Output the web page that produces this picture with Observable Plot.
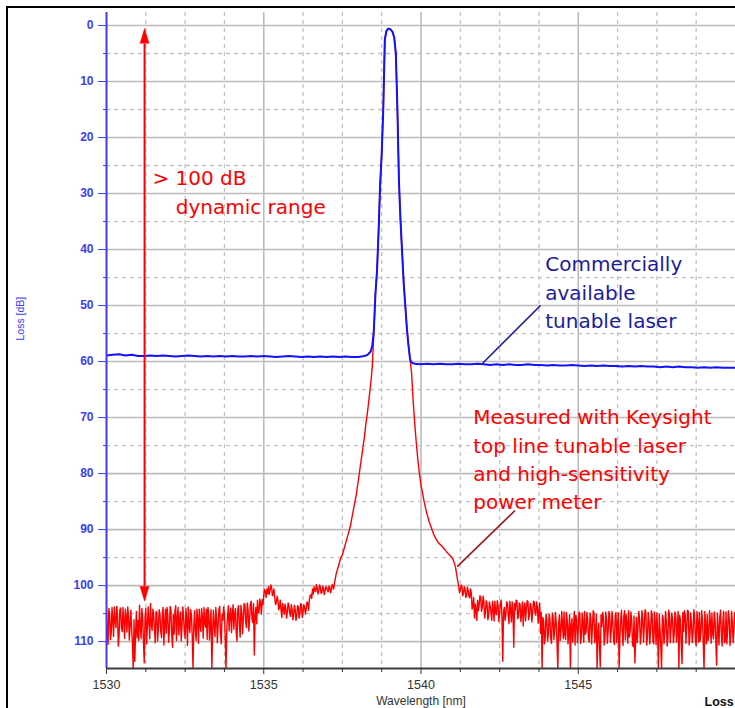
<!DOCTYPE html>
<html><head><meta charset="utf-8">
<script src="https://cdn.jsdelivr.net/npm/d3@7"></script>
<script src="https://cdn.jsdelivr.net/npm/@observablehq/plot@0.6"></script>
<style>
body{margin:0;background:#fff;}
#wrap{position:relative;width:735px;height:708px;overflow:hidden;background:#fff;}
#wrap svg{position:absolute;left:0;top:0;}
#border{position:absolute;left:6px;top:6px;width:800px;height:800px;border-left:2px solid #000;border-top:2px solid #000;pointer-events:none;}
</style></head><body><div id="wrap"></div>
<script>
// ---------- data ----------
// Red trace (Keysight laser + high-sensitivity meter): one row per nm, samples every 0.05 nm
const redRowStart = [1530,1531,1532,1533,1534,1535,1536,1537,1538,1539,1540,1541,1542,1543,1544,1545,1546,1547,1548,1549];
const redStep = 0.05;
const redRows = [
  [104.5,110.5,105,108.5,106,103.8,107.5,105.2,109,104,108.2,106.5,104.2,108.3,105.5,107,108,115,113.5,104.6],
  [106.2,103.5,109.5,105.8,113.8,104.1,107.2,106.7,103.2,108,105.3,110.2,104.8,107.6,105.1,109.3,103.9,106.8,108.5,105.4],
  [107.9,104.3,111,108.7,103.6,105.9,108.8,104.7,107.3,105.6,109.4,106.3,103.8,108.4,105.2,115,104.5,109.8,106,104.2],
  [108.2,105.7,103.9,107.4,109.6,105.1,106.9,115,104.4,109.1,105.8,107.1,103.7,110.4,106.2,104.9,115,105.5,108.1,104],
  [105.3,107.8,104.1,109.9,103.6,109.2,104.8,106.1,103.4,107.5,104.2,105.9,102.8,106.6,112.4,103.9,102.6,104.7,103.2,102.5],
  [101.8,101,100.6,100.2,100.8,100.4,101.3,102.2,103.1,102.6,103.8,104.4,103.2,105.1,104,104.8,103.6,105.5,104.2,105.2],
  [104.3,105.4,103.8,104.9,103.5,104.6,103.9,104.2,103.1,102.5,101.6,100.6,100.2,101.1,100.4,100.9,100.3,101.2,100.5,100.9],
  [100.4,101.1,100.2,100.8,100.1,99.5,98,97,96,95,94.5,93.5,92.5,91.5,90.5,89.5,88,86.5,85,83.5],
  [81.5,79.5,77.5,75.5,73.5,71,69,66.5,64,61,55,48,44,37,28.5,23,15,2.5,1,0.6],
  [0.6,0.8,1.2,2.2,5,15,28,35,40.5,46,50,54,57,59.5,62,67,71,74.5,77.5,80],
  [82,83.5,85,86.3,87.4,88.4,89.2,90,90.8,91.4,91.9,92.3,92.6,92.9,93.2,93.5,93.9,94.2,94.5,94.8],
  [95.1,95.8,96.8,98.6,100.2,100.8,100.1,101.4,100.6,101.8,100.9,102.2,101.3,103.5,105.8,104.2,102.6,103.4,102.1,103.8],
  [102.9,104.6,103.2,105.4,103.7,106.2,104.1,102.8,105.2,103.5,104.8,102.6,113.5,103.9,105,103.1,106.8,104.3,102.9,111],
  [104.4,102.7,105.6,103.3,104.9,107.2,103.1,104.2,102.8,105.1,103.6,104.7,102.9,105.3,103.8,104.5,108.5,115,106.4,109.2],
  [105.8,108.7,106.1,110.3,105.4,107.9,106.6,115,105.2,108.3,106.9,104.7,109.6,106.2,108.1,114.8,105.9,107.4,110.6,106.3],
  [107.8,105.1,109.2,106.5,104.6,108.3,106,110.1,105.7,107.6,104.9,108.8,115,106.7,114.5,107.3,105.5,109.4,106.1,108.2],
  [105.3,107.9,106.4,110.5,104.8,107.1,115,106.2,108.6,105.4,109.7,106.8,104.5,108.1,106.3,110.9,113.8,105.7,107.4,106],
  [108.9,105.6,107.2,104.7,109.3,106.5,108,105.2,110.4,106.9,104.9,115,107.8,114.6,105.8,108.5,106.2,109.6,105,107.5],
  [106.1,108.8,105.4,107.6,115,106.3,113.9,108.2,105.1,107.4,104.6,109.1,106.7,108.4,105.5,110.7,106.9,104.8,108.3,106.2],
  [115,107.3,105.2,108.9,106.4,104.9,109.5,106.1,114.2,107.7,105.6,108.6,106.3,110.2,104.7,107.9,105.8,109.3,106.5,108,106.8]
];
// Extra noise samples read between the ones above (row start + 0.025 + i*0.05); null = none
const redMidOffset = 0.025;
const redMidRows = [
  [108.2,104.1,109.6,103.9,109.1,106.4,103.7,110.8,104.3,107.6,103.9,109.4,105.6,103.8,109.7,104.4,110.2,106.1,108.4,109.3],
  [109.8,107.2,104.1,109.9,105.6,110.4,103.8,109.5,106.9,104.2,107.8,104.6,109.9,104.3,108.2,105.1,110.6,104.2,103.9,110.1],
  [103.7,108.9,105.2,104.6,109.8,103.9,106.1,109.9,103.8,108.2,104.1,110.7,107.2,104.3,108.9,107.4,108.1,104.2,110.3,106.9],
  [104.1,109.4,106.8,104.2,103.9,109.7,104.3,108.1,107.3,103.9,110.2,104.2,108.6,105.1,103.8,109.5,107.8,103.6,105.2,108.4],
  [103.4,105.1,108.3,104.2,106.9,103.5,108.6,103.2,106.4,103.1,108.1,103.3,105.9,103.2,105.4,106.8,104.9,102.4,105.1,103.4],
  [100.7,102.1,101.4,101.6,99.9,101.8,100.6,103.4,101.9,104.3,102.6,105.7,104.2,103.3,105.8,103.1,104.9,103.4,106.1,103.5],
  [106.2,103.6,105.8,103.2,105.7,103.4,105.1,102.9,104.4,101.8,102.3,101.5,100.9,99.8,101.5,99.9,101.4,100.1,101.6,100.2],
  [100.9,100.1,101.3,99.8,100.6],
  [],
  [],
  [],
  [null,null,null,null,101.3,99.9,101.8,100.2,102.1,100.3,101.9,100.6,104.2,102.1,103.3,106.2,104.5,101.8,104.6,101.9],
  [105.8,102.7,106.1,102.9,104.8,102.8,106.3,104.9,102.7,106.4,103.1,105.9,104.6,106.2,102.9,105.4,102.8,106.5,104.7,103.2],
  [102.6,105.9,103.1,106.4,102.9,104.1,106.3,102.7,106.1,103.2,106.5,102.8,104.9,102.9,106.7,103.1,104.8,105.7,110.4,105.1],
  [109.9,105.1,109.4,104.9,109.6,104.8,110.2,106.9,109.8,104.6,109.5,108.9,104.8,110.4,105.2,107.1,110.1,104.6,105.3,110.2],
  [104.7,110.3,104.9,110.1,108.7,104.8,109.6,104.9,110.4,104.5,110.2,105.1,108.4,110.9,105.2,104.8,110.6,104.7,110.3,104.6],
  [110.1,104.6,109.8,105.3,110.2,104.9,109.1,104.4,110.7,104.5,105.2,110.3,109.2,104.7,110.5,105.4,109.6,110.2,104.6,110.4],
  [104.5,110.1,104.3,110.6,104.8,110.4,104.5,109.9,104.7,110.5,108.6,105.1,110.9,105.3,110.4,104.6,110.8,104.4,110.2,104.9],
  [110.2,104.7,110.1,104.6,105.3,110.4,104.8,104.5,110.3,104.4,110.6,104.9,110.2,104.3,109.8,104.6,110.1,109.9,104.5,110.3],
  [104.6,110.4,109.8,104.5,110.3,108.6,104.7,110.1,104.9,110.6,104.4,110.8,104.6,109.9,110.4,104.5,110.7,104.6,110.2,104.8]
];

// Blue trace (commercially available tunable laser)
const blueLeftStart = 1530, blueLeftStep = 0.2;
const blueLeftLoss = [58.9,58.8,58.7,58.9,58.8,59.0,59.0,58.9,59.0,58.9,59.0,59.1,59.0,58.9,59.0,59.1,59.0,59.1,59.0,59.1,59.0,59.1,59.1,59.0,59.1,59.0,59.1,59.2,59.1,59.0,59.1,59.2,59.1,59.2,59.1,59.2,59.1,59.2,59.1,59.2,59.2,59.0];
const bluePeakWl = [1538.3,1538.4,1538.45,1538.5,1538.55,1538.6,1538.65,1538.7,1538.75,1538.8,1538.85,1538.9,1538.95,1539.0,1539.05,1539.1,1539.15,1539.2,1539.25,1539.3,1539.35,1539.4,1539.45,1539.5,1539.55,1539.6,1539.65,1539.7];
const bluePeakLoss = [58.8,58.2,57.2,54.5,48,44,37,28.5,23,15,2.5,1,0.6,0.6,0.8,1.2,2.2,5,15,28,35,40.5,46,50,54,57,59.5,60.2];
const blueRightStart = 1539.8, blueRightStep = 0.2;
const blueRightLoss = [60.4,60.5,60.4,60.5,60.4,60.5,60.5,60.4,60.5,60.5,60.4,60.5,60.6,60.5,60.6,60.5,60.6,60.6,60.5,60.6,60.6,60.7,60.6,60.7,60.7,60.6,60.7,60.8,60.7,60.8,60.7,60.8,60.8,60.9,60.8,60.9,60.8,60.9,60.9,61.0,60.9,61.0,60.9,61.0,61.0,61.1,61.0,61.1,61.0,61.1,61.1,61.1];

// Axes / ticks
const xDomain = [1530, 1550];
const yDomain = [-2.32, 114.8];
const xMajorTicks = [1530, 1535, 1540, 1545];
const xGridMajor = [1535, 1540, 1545];
const xMinorTicks = [1531.25,1532.5,1533.75,1536.25,1537.5,1538.75,1541.25,1542.5,1543.75,1546.25,1547.5,1548.75];
const yMajorTicks = [0,10,20,30,40,50,60,70,80,90,100,110];
const yMinorTicks = [5,15,25,35,45,55,65,75,85,95,105];

// Annotations
const rangeText = ["> 100 dB", "dynamic range"];
const rangeTextX = [1531.46, 1532.2];
const rangeTextY = [26.0, 31.2];
const arrowX = 1531.21, arrowTop = 3.2, arrowBottom = 100.1;
const blueNote = "Commercially\navailable\ntunable laser";
const blueNoteX = 1543.95, blueNoteY = 40.3;
const blueLeader = {x1: 1541.96, y1: 60.3, x2: 1543.80, y2: 50.0};
const redNote = "Measured with Keysight\ntop line tunable laser\nand high-sensitivity\npower meter";
const redNoteX = 1541.66, redNoteY = 67.6;
const redLeader = {x1: 1541.15, y1: 96.6, x2: 1542.99, y2: 86.6};

// ---------- build tables ----------
const red = [];
redRows.forEach((row, r) => row.forEach((v, i) => red.push({wl: redRowStart[r] + i * redStep, loss: v})));
redMidRows.forEach((row, r) => row.forEach((v, i) => { if (v != null) red.push({wl: redRowStart[r] + redMidOffset + i * redStep, loss: v}); }));
red.sort((a, b) => a.wl - b.wl);
const blue = [];
blueLeftLoss.forEach((v, i) => blue.push({wl: blueLeftStart + i * blueLeftStep, loss: v}));
bluePeakWl.forEach((w, i) => blue.push({wl: w, loss: bluePeakLoss[i]}));
blueRightLoss.forEach((v, i) => blue.push({wl: blueRightStart + i * blueRightStep, loss: v}));

const annoFont = "DejaVu Sans, sans-serif";
const axisBlue = "#3c3cf5";

const chart = Plot.plot({
  width: 735, height: 708,
  marginLeft: 106, marginRight: 0, marginTop: 12, marginBottom: 40,
  style: {fontFamily: "Liberation Sans, Arial, sans-serif", background: "transparent", overflow: "visible"},
  x: {domain: xDomain},
  y: {domain: yDomain, reverse: true},
  marks: [
    Plot.ruleY(yMinorTicks, {stroke: "#c2c2c2", strokeWidth: 1.3, strokeDasharray: "4,4"}),
    Plot.ruleX(xMinorTicks, {stroke: "#c2c2c2", strokeWidth: 1.3, strokeDasharray: "4,4"}),
    Plot.ruleY(yMajorTicks, {stroke: "#bcbcbc", strokeWidth: 1.6}),
    Plot.ruleX(xGridMajor, {stroke: "#bcbcbc", strokeWidth: 1.6}),
    Plot.line(red, {x: "wl", y: "loss", stroke: "#ff0000", strokeWidth: 1.4, clip: true}),
    Plot.line(blue, {x: "wl", y: "loss", stroke: "#1212ff", strokeWidth: 2, clip: true}),
    // axis lines
    Plot.ruleY([yDomain[1]], {stroke: "#3a3a3a", strokeWidth: 2}),
    Plot.ruleX([xDomain[0]], {stroke: axisBlue, strokeWidth: 2}),
    // y axis
    Plot.axisY(yMajorTicks, {tickSize: 8, tickPadding: 5, color: axisBlue, fontWeight: "bold", fontSize: 12, label: null}),
    Plot.axisY(yMinorTicks, {tickSize: 3, tickPadding: 2, color: axisBlue, tickFormat: () => "", label: null}),
    // x axis
    Plot.axisX(xMajorTicks, {tickSize: 6, tickPadding: 6, color: "#333", fontSize: 12.5, tickFormat: d => String(d), label: null}),
    Plot.axisX(xMinorTicks, {tickSize: 4, tickPadding: 2, color: "#333", tickFormat: () => "", label: null}),
    Plot.text(["Wavelength [nm]"], {frameAnchor: "bottom", lineAnchor: "middle", dy: 33, fontSize: 12, fill: "#333"}),
    Plot.text(["Loss"], {frameAnchor: "bottom-right", lineAnchor: "middle", textAnchor: "start", dx: -31, dy: 33, fontSize: 12.5, fontWeight: "bold", fill: "#111"}),
    Plot.text(["Loss [dB]"], {frameAnchor: "left", rotate: -90, dx: -86, fontSize: 10.5, fill: axisBlue}),
    // dynamic range arrow
    Plot.link([0], {x1: () => arrowX, x2: () => arrowX, y1: () => arrowTop, y2: () => arrowBottom, stroke: "#ff0000", strokeWidth: 2}),
    Plot.vector([0], {x: () => arrowX, y: () => arrowTop, rotate: 0, length: 15, r: 4.5, shape: "spike", anchor: "start", fill: "#ff0000", stroke: "#ff0000", strokeWidth: 0.5}),
    Plot.vector([0], {x: () => arrowX, y: () => arrowBottom, rotate: 180, length: 15, r: 4.5, shape: "spike", anchor: "start", fill: "#ff0000", stroke: "#ff0000", strokeWidth: 0.5}),
    Plot.text(rangeText, {x: (d, i) => rangeTextX[i], y: (d, i) => rangeTextY[i], text: d => d, textAnchor: "start", lineAnchor: "top", fontSize: 20, fontFamily: annoFont, fill: "#ff0000"}),
    // leaders
    Plot.link([blueLeader], {x1: "x1", y1: "y1", x2: "x2", y2: "y2", stroke: "#1a1a9c", strokeWidth: 1.6}),
    Plot.link([redLeader], {x1: "x1", y1: "y1", x2: "x2", y2: "y2", stroke: "#a01515", strokeWidth: 1.6}),
    Plot.text([blueNote], {x: () => blueNoteX, y: () => blueNoteY, textAnchor: "start", lineAnchor: "top", lineHeight: 1.42, fontSize: 20, fontFamily: annoFont, fill: "#1c1ca0"}),
    Plot.text([redNote], {x: () => redNoteX, y: () => redNoteY, textAnchor: "start", lineAnchor: "top", lineHeight: 1.415, fontSize: 20, fontFamily: annoFont, fill: "#ff0000"})
  ]
});
const wrap = document.getElementById("wrap");
wrap.appendChild(chart);
const b = document.createElement("div"); b.id = "border"; wrap.appendChild(b);
</script></body></html>
